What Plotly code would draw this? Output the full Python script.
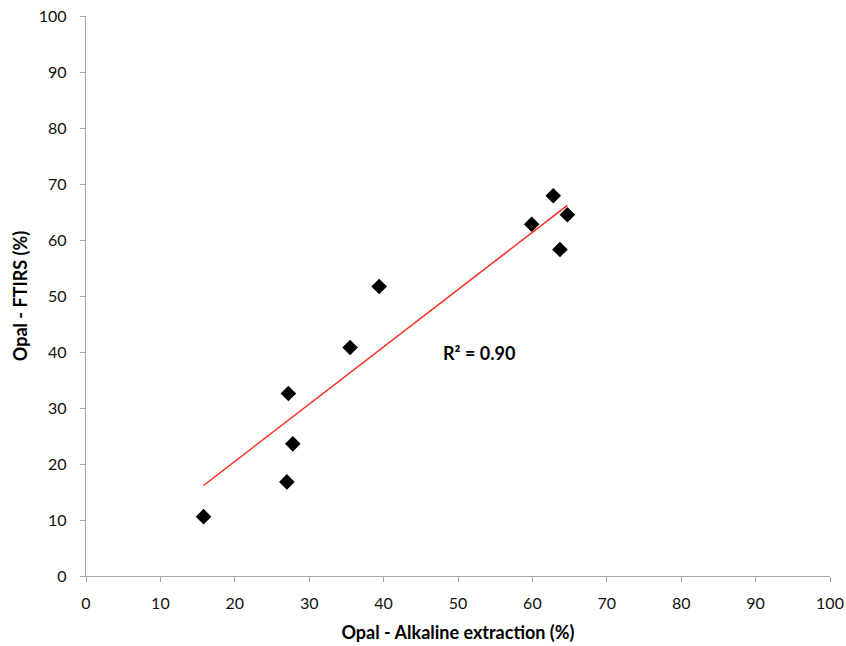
import numpy as np
import plotly.graph_objects as go

alkaline = [15.8, 27.0, 27.2, 27.8, 35.5, 39.4, 59.9, 62.8, 63.7, 64.7]
ftirs = [10.6, 16.8, 32.6, 23.6, 40.8, 51.7, 62.8, 67.9, 58.3, 64.5]
ticks = list(range(0, 101, 10))
r2_label = "R² = 0.90"

x = np.array(alkaline)
y = np.array(ftirs)
slope = float(np.sum(x * y) / np.sum(x * x))  # trendline forced through origin
fit_x = [float(x.min()), float(x.max())]
fit_y = [slope * v for v in fit_x]

FONT = "Lato"
fig = go.Figure()
fig.add_trace(go.Scatter(x=fit_x, y=fit_y, mode="lines",
                         line=dict(color="#FF2A1A", width=1.5), hoverinfo="skip"))
fig.add_trace(go.Scatter(x=alkaline, y=ftirs, mode="markers",
                         marker=dict(symbol="diamond", size=12, color="black",
                                     line=dict(width=0))))

axis_common = dict(range=[0, 100], tickvals=ticks, showgrid=False, zeroline=False,
                   showline=True, linecolor="#A6A6A6", linewidth=1.3,
                   ticks="outside", ticklen=5, tickcolor="#A6A6A6", tickwidth=1.3,
                   automargin=False, ticklabeloverflow="allow",
                   tickfont=dict(family=FONT, size=16, color="#111111"))
fig.update_xaxes(**axis_common, ticklabelstandoff=8,
                 title=dict(text="<b>Opal - Alkaline extraction (%)</b>",
                            font=dict(family=FONT, size=18, color="black"), standoff=15))
fig.update_yaxes(**axis_common, ticklabelstandoff=10,
                 title=dict(text="<b>Opal - FTIRS (%)</b>",
                            font=dict(family=FONT, size=18, color="black"), standoff=6))

fig.add_annotation(x=52.8, y=39.8, text="<b>" + r2_label + "</b>", showarrow=False,
                   font=dict(family=FONT, size=18, color="black"))

fig.update_layout(width=846, height=646, showlegend=False,
                  plot_bgcolor="white", paper_bgcolor="white",
                  margin=dict(l=86, r=16, t=16, b=70, autoexpand=False))
fig.write_html("out.html", config={"displayModeBar": False},
               post_script="document.body.style.margin='0';document.body.style.overflow='hidden';")
